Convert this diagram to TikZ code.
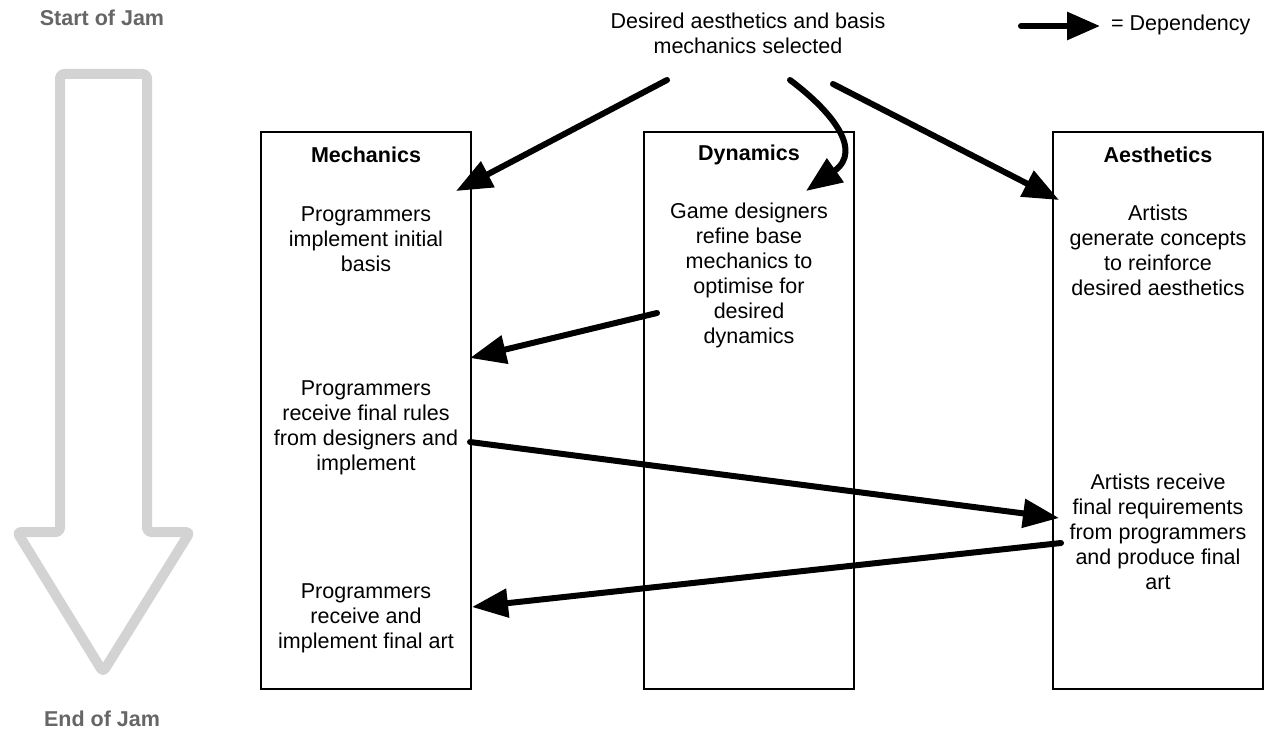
\documentclass[tikz,border=0pt]{standalone}
\usepackage{fontspec}
\setmainfont{Liberation Sans}
\usetikzlibrary{arrows.meta,calc}
\definecolor{jamgrey}{HTML}{D3D3D3}
\definecolor{labgrey}{HTML}{666666}
\tikzset{
  txt/.style={align=center,inner sep=0pt,font=\fontsize{21.5}{25}\selectfont},
  hdr/.style={txt,font=\fontsize{21.5}{25}\selectfont\bfseries},
  colbox/.style={draw=black,line width=1.8pt,minimum width=210pt,minimum height=557pt,inner sep=0pt},
  dep/.style={line width=6pt,line cap=round,-{Triangle[length=36pt,width=28pt]}},
  legdep/.style={dep,-{Triangle[length=33pt,width=27pt]}},
  timeline/.style={draw=jamgrey,line width=10pt,line join=round},
}
\begin{document}
\begin{tikzpicture}[x=1pt,y=-1pt]
\useasboundingbox (0,0) rectangle (1269,733);
% timeline arrow
\draw[timeline,rounded corners=4pt] (60,74) -- (147,74) -- (147,532) -- (190,532) -- (103,672) -- (17,532) -- (60,532) -- cycle;
\node[hdr,text=labgrey] (start) at (102,18) {Start of Jam};
\node[hdr,text=labgrey] (end) at (102,719) {End of Jam};
% title
\node[txt] (title) at (748,33) {Desired aesthetics and basis\\mechanics selected};
% legend
\coordinate (legA) at (1021,26);
\coordinate (legB) at (1100,26);
\draw[legdep] (legA) -- (legB);
\node[txt,anchor=west] (legtxt) at (1111,25) {= Dependency};
% columns
\node[colbox] (mech) at (366,410.5) {};
\node[colbox] (dyn) at (749,410.5) {};
\node[colbox] (aest) at (1158,410.5) {};
\node[hdr] (mechh) at (366,155) {Mechanics};
\node[hdr] (dynh) at (749,155) {Dynamics};
\node[hdr] (aesth) at (1158,155) {Aesthetics};
\node[txt] (m1) at (366,239) {Programmers\\implement initial\\basis};
\node[txt] (m2) at (366,427.5) {Programmers\\receive final rules\\from designers and\\implement};
\node[txt] (m3) at (366,618) {Programmers\\receive and\\implement final art};
\node[txt] (d1) at (749,275.5) {Game designers\\refine base\\mechanics to\\optimise for\\desired\\dynamics};
\node[txt] (a1) at (1158,250.5) {Artists\\generate concepts\\to reinforce\\desired aesthetics};
\node[txt] (a2) at (1158,532) {Artists receive\\final requirements\\from programmers\\and produce final\\art};
% connector end points
\coordinate (t1) at (667,80);
\coordinate (t2) at (790,80);
\coordinate (t3) at (833,84);
\coordinate (e1) at (456,191);
\coordinate (e2) at (806,191);
\coordinate (e3) at (1059,200);
\coordinate (d1s) at (657,313);
\coordinate (m2in) at (470,358);
\coordinate (m2out) at (470,442);
\coordinate (a2in) at (1059,518);
\coordinate (a2out) at (1061,543);
\coordinate (m3in) at (472,607);
\draw[dep] (t1) -- (e1);
\draw[dep] (t2) .. controls (830,110) and (864,150) .. (e2);
\draw[dep] (t3) -- (e3);
\draw[dep] (d1s) -- (m2in);
\draw[dep] (m2out) -- (a2in);
\draw[dep] (a2out) -- (m3in);
\end{tikzpicture}
\end{document}
